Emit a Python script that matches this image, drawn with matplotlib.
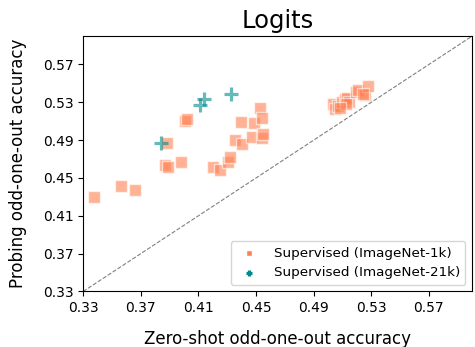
import matplotlib
matplotlib.use('Agg')
from matplotlib import pyplot as plt

# Supervised (ImageNet-1k): zero-shot vs probing accuracy
in1k_zero = [0.3378, 0.3563, 0.3660, 0.3868, 0.3891, 0.3979, 0.3884, 0.4007, 0.4023,
             0.4203, 0.4249, 0.4307, 0.4319, 0.4353, 0.4404, 0.4395, 0.4487, 0.4473,
             0.4543, 0.4527, 0.4538, 0.4547,
             0.5033, 0.5046, 0.5067, 0.5095, 0.5116, 0.5130, 0.5144, 0.5123, 0.5192,
             0.5206, 0.5254, 0.5275, 0.5240, 0.5081]
in1k_probe = [0.4294, 0.4410, 0.4368, 0.4639, 0.4621, 0.4674, 0.4875, 0.5107, 0.5121,
              0.4621, 0.4579, 0.4664, 0.4727, 0.4903, 0.4857, 0.5097, 0.5086, 0.4938,
              0.4920, 0.5238, 0.5132, 0.4970,
              0.5277, 0.5224, 0.5266, 0.5308, 0.5340, 0.5350, 0.5308, 0.5277, 0.5414,
              0.5435, 0.5372, 0.5477, 0.5393, 0.5245]

# Supervised (ImageNet-21k)
in21k_zero = [0.3840, 0.4110, 0.4140, 0.4326]
in21k_probe = [0.4875, 0.5270, 0.5330, 0.5390]

ticks = [0.33, 0.37, 0.41, 0.45, 0.49, 0.53, 0.57]

fig = plt.figure(figsize=(4.75, 3.47), dpi=100)
ax = fig.add_axes([0.175, 0.16, 0.819, 0.736])

ax.scatter(in1k_zero, in1k_probe, marker='s', s=75, color='#ff7f50', alpha=0.6,
           edgecolors='white', linewidths=1, label='Supervised (ImageNet-1k)')
ax.scatter(in21k_zero, in21k_probe, marker='+', s=110, color='darkcyan', alpha=0.6,
           linewidths=2.3, label='Supervised (ImageNet-21k)')

ax.plot([0.33, 0.60], [0.33, 0.60], color='gray', linestyle='--', linewidth=0.8)

ax.set_xlim(0.33, 0.60)
ax.set_ylim(0.33, 0.60)
ax.set_xticks(ticks)
ax.set_yticks(ticks)
ax.set_xticklabels([f'{t:.2f}' for t in ticks], fontsize=10)
ax.set_yticklabels([f'{t:.2f}' for t in ticks], fontsize=10)

ax.set_title('Logits', fontsize=17.5)
ax.set_xlabel('Zero-shot odd-one-out accuracy', fontsize=12, labelpad=11)
ax.set_ylabel('Probing odd-one-out accuracy', fontsize=12, labelpad=11)

leg = ax.legend(loc='lower right', fontsize=9.7, markerscale=0.45)
for h in leg.legend_handles:
    h.set_alpha(1)

fig.savefig('out.png', dpi=100)
